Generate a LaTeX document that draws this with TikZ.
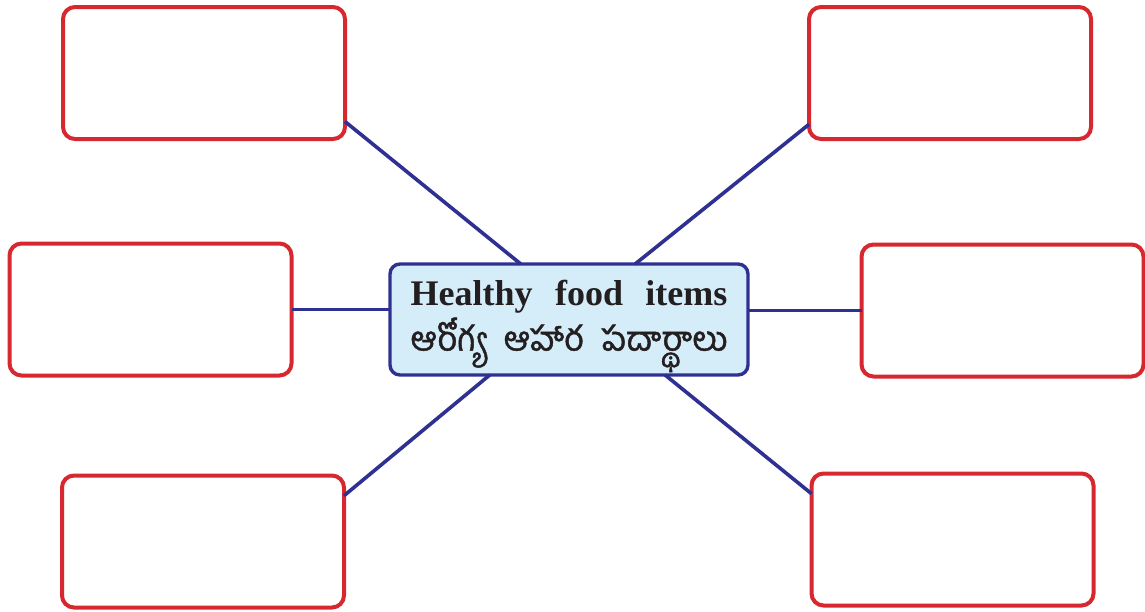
\documentclass[tikz,border=0pt]{standalone}
\usepackage{fontspec}
\setmainfont{Liberation Serif}
\newfontfamily\telugufont[Script=Telugu, FakeBold=1.3]{Hind Guntur}
\definecolor{BoxRed}{HTML}{D7282F}
\definecolor{LinkBlue}{HTML}{2E3192}
\definecolor{HubFill}{HTML}{D5ECF9}
\definecolor{InkDark}{HTML}{231F20}
\usetikzlibrary{calc}

\begin{document}
\begin{tikzpicture}[
  x=0.5pt, y=-0.5pt,
  leaf/.style={draw=BoxRed, line width=2pt, rounded corners=6pt, fill=white,
               minimum width=141pt, minimum height=66pt, outer sep=0pt},
  hub/.style={draw=LinkBlue, line width=1.7pt, rounded corners=5pt, fill=HubFill,
              minimum width=179pt, minimum height=55.5pt, outer sep=0pt,
              align=center, text=InkDark, inner sep=0pt},
  link/.style={draw=LinkBlue, line width=1.8pt}
]
  \useasboundingbox (0,0) rectangle (1145,611);

  % Centre
  \node[hub] (hub) at (569,319.5)
    {\rule{0pt}{19.5pt}{\fontsize{18}{21}\selectfont\bfseries Healthy\hspace{0.62em}food\hspace{0.62em}items}\\[1pt]
     {\telugufont\fontsize{17}{21}\selectfont ఆరోగ్య\hspace{0.55em}ఆహార\hspace{0.55em}పదార్థాలు}};

  % Empty boxes
  \node[leaf] (tl) at (204,73)     {};
  \node[leaf] (tr) at (950,73)     {};
  \node[leaf] (ml) at (150.5,309.5) {};
  \node[leaf] (mr) at (1002.5,310.5) {};
  \node[leaf] (bl) at (203,541.5)  {};
  \node[leaf] (br) at (952.5,539.5) {};

  % Links
  \draw[link] (tl.-19.27) -- (hub.131.4);
  \draw[link] (tr.-160.73) -- (hub.40.06);
  \draw[link] (ml.east) -- (ml.east -| hub.west);
  \draw[link] (hub.east |- mr.west) -- (mr.west);
  \draw[link] (bl.18.73) -- (hub.215.09);
  \draw[link] (br.162.16) -- (hub.-30.56);
\end{tikzpicture}
\end{document}
